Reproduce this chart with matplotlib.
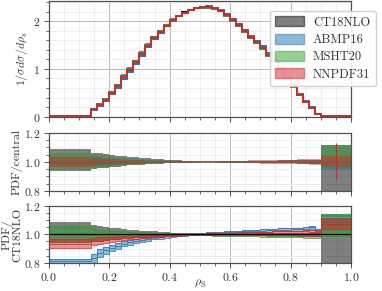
import numpy as np
import matplotlib
matplotlib.use("Agg")
import matplotlib.pyplot as plt
from matplotlib.patches import Patch
from matplotlib.ticker import AutoMinorLocator, MultipleLocator

plt.rcParams['font.family'] = 'serif'
plt.rcParams['font.serif'] = ['cmr10', 'DejaVu Serif']
plt.rcParams['mathtext.fontset'] = 'cm'
plt.rcParams['axes.formatter.use_mathtext'] = True
plt.rcParams['font.size'] = 8.5

# ---------------- data ----------------
edges = [0.0, 0.14, 0.16, 0.18, 0.20, 0.22, 0.24, 0.26, 0.28, 0.30, 0.32,
         0.34, 0.36, 0.38, 0.40, 0.42, 0.44, 0.46, 0.48, 0.50, 0.52,
         0.54, 0.56, 0.58, 0.60, 0.62, 0.64, 0.66, 0.68, 0.70, 0.72,
         0.74, 0.76, 0.78, 0.80, 0.82, 0.84, 0.86, 0.88, 0.90, 1.0]

pdf_names = ['CT18NLO', 'ABMP16', 'MSHT20', 'NNPDF31']
pdf_colors = ['black', 'tab:blue', 'tab:green', 'tab:red']

# CT18NLO central distribution 1/sigma dsigma/drho
ct18_central = [0.01,
                0.16, 0.26, 0.37, 0.52, 0.66, 0.85, 1.00, 1.16, 1.33, 1.50,
                1.66, 1.79, 1.92, 2.03, 2.11, 2.18, 2.23, 2.27, 2.29, 2.29,
                2.26, 2.21, 2.12, 2.01, 1.90, 1.78, 1.65, 1.55, 1.43, 1.29,
                1.15, 0.98, 0.80, 0.63, 0.45, 0.31, 0.19, 0.06,
                0.005]

# central ratio to CT18NLO
ratio_ct18 = [1.0] * 40
ratio_abmp = [0.81,
              0.832, 0.865, 0.888, 0.905, 0.920, 0.933, 0.944, 0.953, 0.961, 0.968,
              0.975, 0.981, 0.986, 0.990, 0.994, 0.997, 1.000, 1.003, 1.005, 1.008,
              1.010, 1.012, 1.014, 1.016, 1.018, 1.021, 1.024, 1.026, 1.028, 1.030,
              1.032, 1.034, 1.035, 1.037, 1.037, 1.038, 1.050, 1.025,
              1.13]
ratio_msht = [1.0,
              0.995, 0.995, 0.996, 0.996, 0.997, 0.997, 0.998, 0.998, 0.999, 0.999,
              1.000, 1.000, 1.000, 1.000, 0.999, 0.999, 0.998, 0.998, 0.997, 0.997,
              0.996, 0.996, 0.995, 0.995, 0.994, 0.994, 0.993, 0.993, 0.993, 0.992,
              0.992, 0.992, 0.991, 0.991, 0.991, 0.990, 0.990, 0.990,
              1.03]
ratio_nnpdf = [0.932,
               0.950, 0.957, 0.962, 0.966, 0.970, 0.974, 0.977, 0.980, 0.983, 0.985,
               0.988, 0.990, 0.992, 0.994, 0.996, 0.998, 0.999, 1.000, 1.001, 1.002,
               1.003, 1.004, 1.004, 1.005, 1.005, 1.006, 1.006, 1.007, 1.007, 1.008,
               1.008, 1.008, 1.009, 1.009, 1.009, 1.010, 1.010, 1.010,
               1.075]

# uncertainty bands relative to each PDF's own central value
ct18_hi = [1.088,
           1.064, 1.058, 1.052, 1.047, 1.043, 1.039, 1.035, 1.031, 1.028, 1.024,
           1.021, 1.018, 1.015, 1.012, 1.010, 1.008, 1.006, 1.005, 1.004, 1.004,
           1.004, 1.005, 1.005, 1.006, 1.006, 1.007, 1.007, 1.008, 1.008, 1.009,
           1.009, 1.010, 1.010, 1.011, 1.012, 1.013, 1.014, 1.016,
           1.116]
ct18_lo = [0.940,
           0.950, 0.955, 0.960, 0.964, 0.968, 0.972, 0.975, 0.978, 0.981, 0.984,
           0.986, 0.988, 0.990, 0.992, 0.993, 0.994, 0.995, 0.996, 0.996, 0.996,
           0.996, 0.995, 0.995, 0.994, 0.994, 0.993, 0.993, 0.992, 0.992, 0.991,
           0.991, 0.990, 0.990, 0.989, 0.988, 0.987, 0.986, 0.984,
           0.70]
abmp_hi = [1.015,
           1.038, 1.033, 1.029, 1.025, 1.022, 1.019, 1.017, 1.015, 1.013, 1.012,
           1.011, 1.010, 1.009, 1.008, 1.008, 1.007, 1.007, 1.007, 1.007, 1.007,
           1.007, 1.007, 1.007, 1.007, 1.008, 1.008, 1.008, 1.008, 1.009, 1.009,
           1.009, 1.009, 1.010, 1.010, 1.010, 1.011, 1.012, 1.012,
           1.010]
abmp_lo = [0.985,
           0.962, 0.967, 0.971, 0.975, 0.978, 0.981, 0.983, 0.985, 0.987, 0.988,
           0.989, 0.990, 0.991, 0.992, 0.992, 0.993, 0.993, 0.993, 0.993, 0.993,
           0.993, 0.993, 0.993, 0.993, 0.992, 0.992, 0.992, 0.992, 0.991, 0.991,
           0.991, 0.991, 0.990, 0.990, 0.990, 0.989, 0.988, 0.988,
           0.945]
msht_hi = [1.060,
           1.045, 1.040, 1.036, 1.032, 1.028, 1.025, 1.022, 1.019, 1.017, 1.015,
           1.013, 1.011, 1.010, 1.008, 1.007, 1.006, 1.005, 1.005, 1.004, 1.004,
           1.004, 1.005, 1.005, 1.005, 1.006, 1.006, 1.007, 1.007, 1.008, 1.008,
           1.009, 1.009, 1.010, 1.010, 1.011, 1.012, 1.013, 1.014,
           1.115]
msht_lo = [0.948,
           0.957, 0.961, 0.965, 0.968, 0.972, 0.975, 0.978, 0.981, 0.983, 0.985,
           0.987, 0.989, 0.990, 0.992, 0.993, 0.994, 0.995, 0.995, 0.996, 0.996,
           0.996, 0.995, 0.995, 0.995, 0.994, 0.994, 0.993, 0.993, 0.992, 0.992,
           0.991, 0.991, 0.990, 0.990, 0.989, 0.988, 0.987, 0.986,
           0.960]
nnpdf_hi = [1.036,
            1.026, 1.023, 1.021, 1.019, 1.017, 1.015, 1.013, 1.012, 1.010, 1.009,
            1.008, 1.007, 1.006, 1.006, 1.005, 1.005, 1.005, 1.005, 1.005, 1.006,
            1.006, 1.007, 1.007, 1.008, 1.009, 1.009, 1.010, 1.011, 1.012, 1.012,
            1.013, 1.014, 1.015, 1.016, 1.017, 1.018, 1.019, 1.020,
            1.040]
nnpdf_lo = [0.968,
            0.974, 0.977, 0.979, 0.981, 0.983, 0.985, 0.987, 0.988, 0.990, 0.991,
            0.992, 0.993, 0.994, 0.994, 0.995, 0.995, 0.995, 0.995, 0.995, 0.994,
            0.994, 0.993, 0.993, 0.992, 0.991, 0.991, 0.990, 0.989, 0.988, 0.988,
            0.987, 0.986, 0.985, 0.984, 0.983, 0.982, 0.981, 0.980,
            0.964]
# NNPDF31 extra vertical error in the last bin (PDF/central)
nnpdf_last_err = [0.88, 1.13]

ratios = [ratio_ct18, ratio_abmp, ratio_msht, ratio_nnpdf]
his = [ct18_hi, abmp_hi, msht_hi, nnpdf_hi]
los = [ct18_lo, abmp_lo, msht_lo, nnpdf_lo]

# ---------------- figure ----------------
W, H = 382, 291
fig = plt.figure(figsize=(W / 100, H / 100), dpi=100)
L = 48.7 / W
Wd = (351 - 48.7) / W
ax1 = fig.add_axes([L, 1 - 116.7 / H, Wd, (116.7 - 1) / H])
ax2 = fig.add_axes([L, 1 - 191 / H, Wd, (191 - 132.7) / H])
ax3 = fig.add_axes([L, 1 - 262.6 / H, Wd, (262.6 - 206.3) / H])

e = np.array(edges)
ct = np.array(ct18_central)

for i, (name, c) in enumerate(zip(pdf_names, pdf_colors)):
    r = np.array(ratios[i])
    hi = np.array(his[i])
    lo = np.array(los[i])
    cen = ct * r
    # top panel
    ax1.stairs(cen * hi, e, baseline=cen * lo, fill=True, color=c, alpha=0.5, lw=0)
    ax1.stairs(cen, e, color=c, lw=1.4, baseline=None)
    # middle panel
    ax2.stairs(hi, e, baseline=lo, fill=True, color=c, alpha=0.5, lw=0)
    # bottom panel
    ax3.stairs(r * hi, e, baseline=r * lo, fill=True, color=c, alpha=0.5, lw=0)
    if i > 0:
        ax3.stairs(r * hi, e, color=c, lw=0.7, alpha=0.8, baseline=None)
        ax3.stairs(r * lo, e, color=c, lw=0.7, alpha=0.8, baseline=None)
        ax3.stairs(r, e, color=c, lw=0.7, alpha=0.8, baseline=None)

ax2.vlines(0.5 * (e[-2] + e[-1]), nnpdf_last_err[0], nnpdf_last_err[1],
           color='tab:red', lw=0.9)
ax3.axhline(1.0, color='black', lw=0.9)

for ax in (ax1, ax2, ax3):
    ax.set_xlim(0, 1)
    ax.xaxis.set_major_locator(MultipleLocator(0.2))
    ax.xaxis.set_minor_locator(AutoMinorLocator(4))
    ax.grid(which='major', color='#b8b8b8', lw=0.7)
    ax.grid(which='minor', color='#ececec', lw=0.6)
    ax.set_axisbelow(True)
    for s in ax.spines.values():
        s.set_color('#505050')
        s.set_linewidth(0.9)
    ax.tick_params(which='both', direction='out', colors='#505050', labelcolor='#333333')
    ax.tick_params(which='major', length=3.5, width=0.7, pad=2.5)
    ax.tick_params(which='minor', length=2, width=0.6)

ax1.set_ylim(0, 2.42)
ax1.yaxis.set_major_locator(MultipleLocator(1))
ax1.yaxis.set_minor_locator(AutoMinorLocator(5))
ax1.set_ylabel(r'$1/\sigma d\sigma/d\rho_s$', color='#333333', labelpad=2)
ax1.tick_params(labelbottom=False)

for ax in (ax2, ax3):
    ax.set_ylim(0.8, 1.2)
    ax.yaxis.set_major_locator(MultipleLocator(0.2))
    ax.yaxis.set_minor_locator(AutoMinorLocator(4))
ax2.tick_params(labelbottom=False)
ax2.set_ylabel('PDF/central', color='#333333', labelpad=1)
ax3.set_ylabel('PDF/\nCT18NLO', color='#333333', labelpad=1, linespacing=1.0)
ax3.set_xlabel(r'$\rho_\mathrm{S}$', color='#333333', labelpad=-3.5)

handles = [Patch(facecolor=c, edgecolor=c, alpha=0.5, label=n)
           for n, c in zip(pdf_names, pdf_colors)]
leg = ax1.legend(handles=handles, loc='upper right', bbox_to_anchor=(1.103, 0.97),
                 fontsize=9, handlelength=2.3, handleheight=0.85, labelspacing=0.4,
                 borderpad=0.45, handletextpad=0.7, framealpha=0.9,
                 edgecolor='#cccccc', fancybox=True)
for t in leg.get_texts():
    t.set_color('#333333')

fig.savefig('out.png', dpi=100)
